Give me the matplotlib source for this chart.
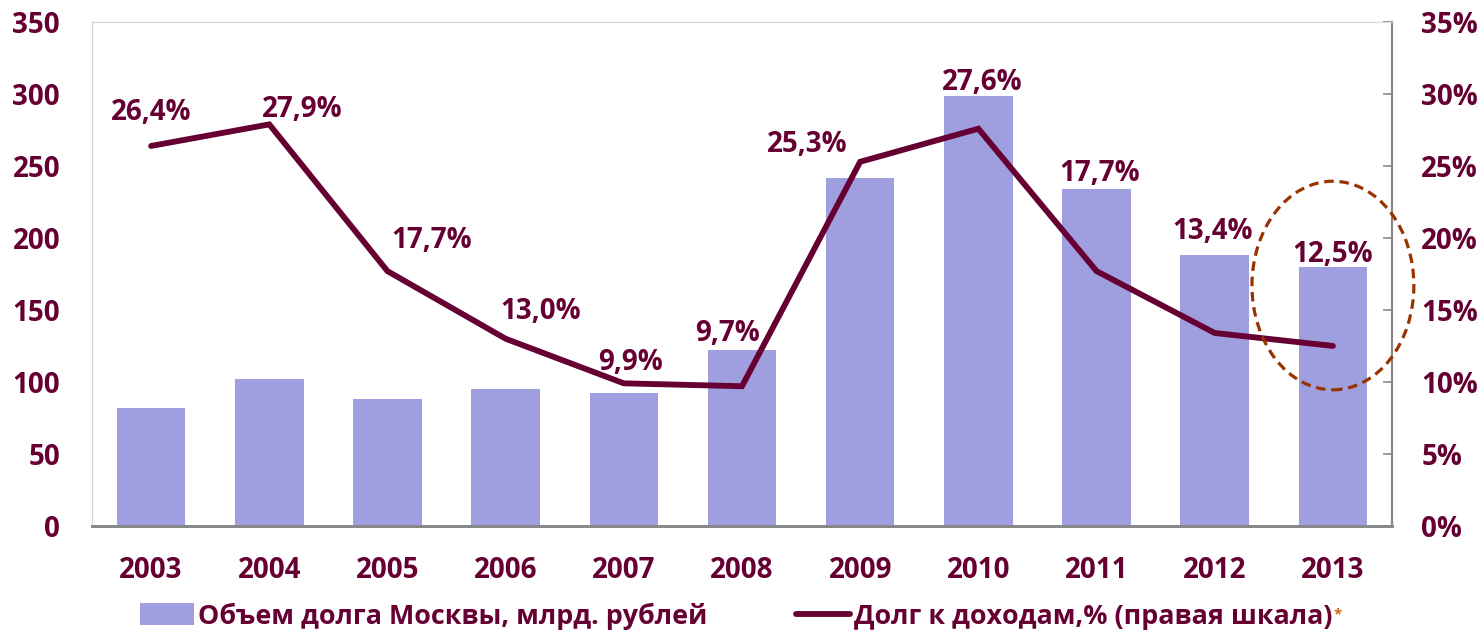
import matplotlib.pyplot as plt
from matplotlib.patches import Ellipse
import numpy as np

## Data
years = ['2003', '2004', '2005', '2006', '2007', '2008', '2009', '2010', '2011', '2012', '2013']
debt_volume = [82, 102, 88, 95, 92, 122, 242, 299, 234, 188, 180]
debt_to_income = [26.4, 27.9, 17.7, 13.0, 9.9, 9.7, 25.3, 27.6, 17.7, 13.4, 12.5]
pct_labels = ['26,4%', '27,9%', '17,7%', '13,0%', '9,9%', '9,7%', '25,3%', '27,6%', '17,7%', '13,4%', '12,5%']

# label offsets in pixels (dx, dy) from each line point
label_offsets = [(0, 33), (33, 15), (44, 31), (35, 27), (7, 21), (-14, 53),
                 (-53, 17), (4, 46), (3, 98), (-2, 101), (0, 91)]

maroon = '#660033'
bar_color = '#9F9FDF'

plt.rcParams['font.family'] = ['Open Sans', 'DejaVu Sans']
plt.rcParams['font.weight'] = 'bold'

fig = plt.figure(figsize=(14.84, 6.35), dpi=100)
ax = fig.add_axes([0.062, 0.172, 0.876, 0.793])
ax2 = ax.twinx()

x = np.arange(len(years))
bars = ax.bar(x, debt_volume, width=0.58, color=bar_color, zorder=2,
              label='Объем долга Москвы, млрд. рублей')
line, = ax2.plot(x, debt_to_income, color=maroon, lw=4.2, solid_capstyle='round',
                 solid_joinstyle='miter', zorder=3, label='Долг к доходам,% (правая шкала)')

for xi, v, lab, off in zip(x, debt_to_income, pct_labels, label_offsets):
    ax2.annotate(lab, (xi, v), xytext=off, textcoords='offset pixels',
                 ha='center', va='center', fontsize=20, fontweight='bold', color=maroon)

# highlight ellipse around last year
ax2.add_patch(Ellipse((x[-1], 16.7), 1.37, 14.5, fill=False, ls=(0, (3, 1.8)),
                      lw=2.3, edgecolor='#993300', zorder=4, clip_on=False))

ax.set_xlim(-0.5, len(years) - 0.5)
ax.set_ylim(0, 350)
ax.set_yticks(range(0, 351, 50))
ax2.set_ylim(0, 35)
ax2.set_yticks(range(0, 36, 5))
ax2.set_yticklabels([f'{t}%' for t in range(0, 36, 5)])

ax.set_xticks(x)
ax.set_xticklabels(years)
ax.tick_params(axis='x', length=0, pad=22, labelsize=20, labelcolor=maroon)
ax.tick_params(axis='y', length=0, pad=23, labelsize=20, labelcolor=maroon)
ax2.tick_params(axis='y', direction='in', length=6.5, width=1.2, color='#888888',
                pad=21, labelsize=20, labelcolor=maroon)

for a in (ax, ax2):
    a.spines['top'].set_color('#D9D9D9')
    a.spines['left'].set_color('#D9D9D9')
    a.spines['bottom'].set_color('#888888')
    a.spines['bottom'].set_linewidth(2)
    a.spines['right'].set_color('#888888')
    a.spines['right'].set_linewidth(1.5)

leg = fig.legend(handles=[bars, line], loc='center left', bbox_to_anchor=(140 / 1484, 0.03), ncol=2,
                 frameon=False, fontsize=19.4, labelcolor=maroon, columnspacing=3.3,
                 handlelength=2.0, handleheight=0.85, handletextpad=0.15,
                 borderpad=0, borderaxespad=0)

# small asterisk right after the second legend entry
fig.canvas.draw()
bb = leg.get_texts()[1].get_window_extent()
fig.text(bb.x1 + 1, bb.y1 - 4, '*', color='#CC6600', fontsize=11, fontweight='bold',
         ha='left', va='top', transform=None)

plt.savefig('out.png', dpi=100)
